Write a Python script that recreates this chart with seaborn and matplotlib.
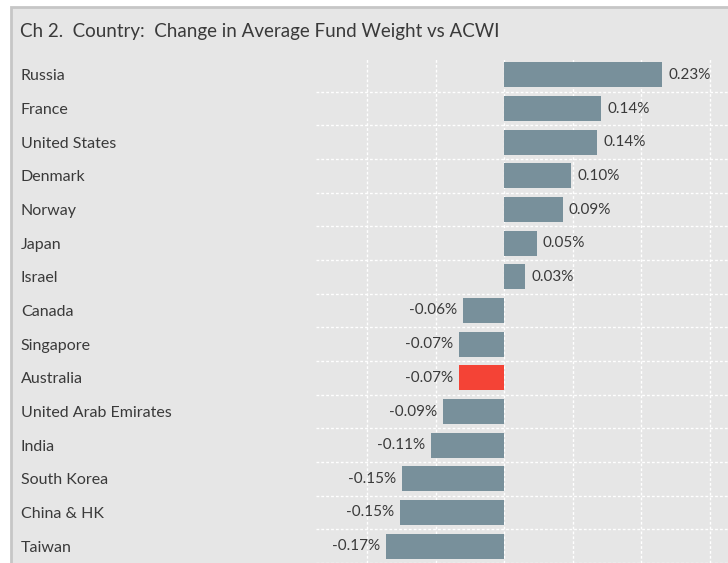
import matplotlib
matplotlib.use('Agg')
import matplotlib.pyplot as plt
from matplotlib.patches import Rectangle
from matplotlib.ticker import MultipleLocator
import seaborn as sns

# --- data ---
countries = ["Russia", "France", "United States", "Denmark", "Norway", "Japan",
             "Israel", "Canada", "Singapore", "Australia", "United Arab Emirates",
             "India", "South Korea", "China & HK", "Taiwan"]
change = [0.231, 0.142, 0.136, 0.098, 0.086, 0.048, 0.031, -0.060, -0.066,
          -0.066, -0.089, -0.107, -0.149, -0.152, -0.172]
highlight = "Australia"

BG = "#e6e6e6"
BAR = "#78909b"
RED = "#f44336"
TXT = "#3a3a3a"

sns.set_theme(style="white")
plt.rcParams['font.family'] = ['Lato', 'DejaVu Sans']

W, H = 728, 563
fig = plt.figure(figsize=(W / 100, H / 100), dpi=100, facecolor="white")

# panel with grey border (cropped on the right and bottom)
fig.patches.append(Rectangle((11 / W, -0.1), 1.2, 1.1 - 7 / H,
                             transform=fig.transFigure, facecolor=BG,
                             edgecolor="#c6c6c6", linewidth=2, zorder=-10))

ax = fig.add_axes([316 / W, 0, 1 - 316 / W, (H - 58) / H])
ax.set_facecolor(BG)

palette = {c: (RED if c == highlight else BAR) for c in countries}
sns.barplot(x=change, y=countries, hue=countries, palette=palette,
            legend=False, orient="h", width=0.74, saturation=1,
            linewidth=0, ax=ax)

ax.set_xlim(-0.2745, 0.327)
ax.set_ylim(14.37, -0.5)

for s in ax.spines.values():
    s.set_visible(False)

ax.xaxis.set_major_locator(MultipleLocator(0.1))
ax.set_yticks(range(len(countries)), minor=False)
ax.set_yticks([i + 0.5 for i in range(len(countries))], minor=True)
ax.grid(True, axis="x", which="major", color="white", linestyle=(0, (2, 1.5)), linewidth=1)
ax.grid(True, axis="y", which="minor", color="white", linestyle=(0, (2, 1.5)), linewidth=1)
ax.grid(False, axis="y", which="major")
ax.set_axisbelow(True)

ax.tick_params(axis="x", bottom=False, labelbottom=False)
ax.tick_params(axis="y", which="both", left=False)
ax.tick_params(axis="y", which="major", pad=206.5, labelsize=11.5, labelcolor=TXT)
ax.set_yticklabels(countries)
for lab in ax.get_yticklabels():
    lab.set_horizontalalignment("left")
ax.set_xlabel("")
ax.set_ylabel("")

# value labels
for i, v in enumerate(change):
    if v >= 0:
        ax.annotate(f"{v:.2f}%", (v, i), xytext=(4.3, 0), textcoords="offset points",
                    ha="left", va="center", fontsize=11, color=TXT)
    else:
        ax.annotate(f"{v:.2f}%", (v, i), xytext=(-4.3, 0), textcoords="offset points",
                    ha="right", va="center", fontsize=11, color=TXT)

fig.text(20 / W, 1 - 32 / H, "Ch 2.  Country:  Change in Average Fund Weight vs ACWI",
         ha="left", va="center", fontsize=13.5, color=TXT)

fig.savefig("out.png", dpi=100, facecolor="white")
